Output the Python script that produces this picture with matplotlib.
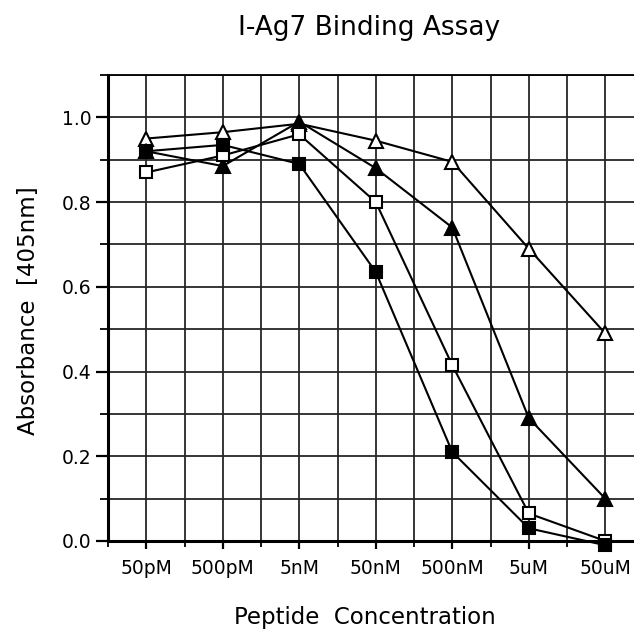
import numpy as np
import matplotlib
matplotlib.use("Agg")
import matplotlib.pyplot as plt
from matplotlib.ticker import MultipleLocator

plt.rcParams['font.family'] = ['DejaVu Sans']

concentrations = ["50pM", "500pM", "5nM", "50nM", "500nM", "5uM", "50uM"]

# absorbance readings per peptide
open_triangle = [0.95, 0.965, 0.985, 0.945, 0.895, 0.69, 0.49]
filled_triangle = [0.92, 0.885, 0.99, 0.88, 0.74, 0.29, 0.10]
open_square = [0.87, 0.91, 0.96, 0.80, 0.415, 0.065, 0.0]
filled_square = [0.92, 0.935, 0.89, 0.635, 0.21, 0.03, -0.01]

x = np.arange(1, len(concentrations) + 1)

fig = plt.figure(figsize=(6.34, 6.29), dpi=100)
ax = fig.add_axes([108 / 634, 88 / 629, 526 / 634, 466 / 629])

# grid first so the markers sit on top
ax.set_xticks(x)
ax.set_xticks(x - 0.5, minor=True)
ax.yaxis.set_major_locator(MultipleLocator(0.2))
ax.yaxis.set_minor_locator(MultipleLocator(0.1))
ax.grid(which='both', color='#262626', lw=1.3)
ax.set_axisbelow(True)

line = dict(color='black', lw=1.5, markeredgewidth=1.5, markeredgecolor='black', clip_on=False)
ax.plot(x, open_triangle, marker='^', markerfacecolor='white', markersize=10.5, **line)
ax.plot(x, filled_triangle, marker='^', markerfacecolor='black', markersize=10.5, **line)
ax.plot(x, open_square, marker='s', markerfacecolor='white', markersize=8.5, **line)
ax.plot(x, filled_square, marker='s', markerfacecolor='black', markersize=8.5, **line)

ax.set_xlim(0.5, 7.375)
ax.set_ylim(0.0, 1.1)
ax.set_xticklabels(concentrations, fontsize=13.5)
ax.set_yticks([0.0, 0.2, 0.4, 0.6, 0.8, 1.0])
ax.set_yticklabels(["0.0", "0.2", "0.4", "0.6", "0.8", "1.0"], fontsize=13.5)
ax.tick_params(axis='x', which='major', length=6, width=1.6, direction='out', pad=7)
ax.tick_params(axis='x', which='minor', length=4, width=1.3, direction='out')
ax.tick_params(axis='y', which='major', length=9, width=1.6, direction='out', pad=3)
ax.tick_params(axis='y', which='minor', length=6, width=1.3, direction='out')

for side in ['left', 'bottom']:
    ax.spines[side].set_linewidth(2.2)
ax.spines['right'].set_visible(False)
ax.spines['top'].set_linewidth(1.3)

fig.text(369 / 634, 1 - 35 / 629, "I-Ag7 Binding Assay", fontsize=19,
         ha='center', va='baseline')
fig.text(365 / 634, 1 - 624 / 629, "Peptide  Concentration", fontsize=16.5,
         ha='center', va='baseline')
fig.text(28 / 634, 1 - 311 / 629, "Absorbance  [405nm]", fontsize=16.5,
         ha='center', va='center', rotation=90)

fig.savefig("out.png", dpi=100)
